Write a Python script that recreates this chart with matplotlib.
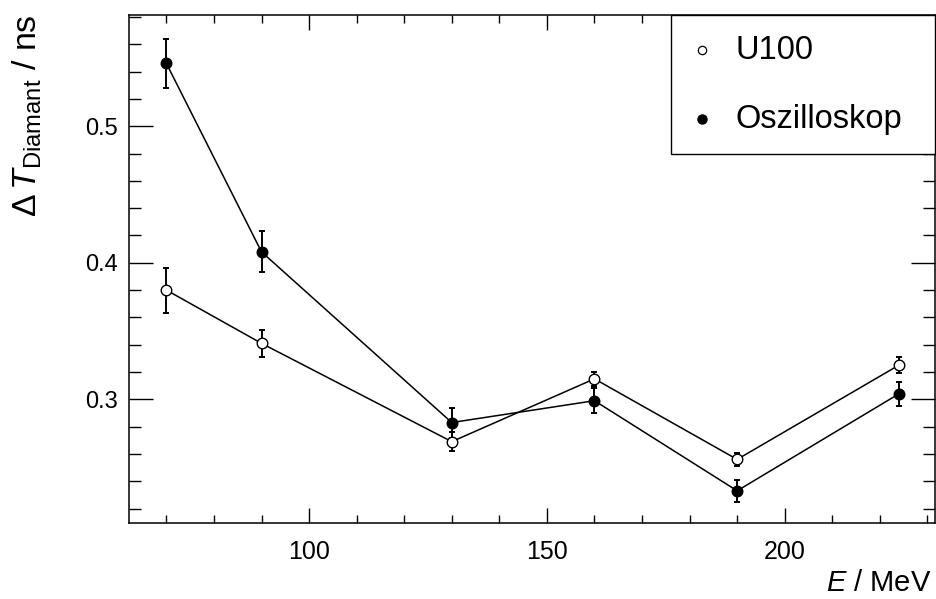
import matplotlib
matplotlib.use("Agg")
import matplotlib.pyplot as plt
from matplotlib.ticker import MultipleLocator
from matplotlib.patches import Rectangle

# Beam energy in MeV
energy = [70, 90, 130, 160, 190, 224]

# Diamond time resolution in ns
u100 = [0.380, 0.341, 0.269, 0.315, 0.256, 0.325]
u100_err = [0.0165, 0.010, 0.007, 0.005, 0.005, 0.006]

osz = [0.546, 0.408, 0.283, 0.299, 0.233, 0.304]
osz_err = [0.018, 0.015, 0.011, 0.009, 0.008, 0.009]

series_labels = ["U100", "Oszilloskop"]

plt.rcParams["font.family"] = ["Liberation Sans", "DejaVu Sans"]
plt.rcParams["mathtext.fontset"] = "custom"
plt.rcParams["mathtext.rm"] = "Liberation Sans"
plt.rcParams["mathtext.it"] = "Liberation Sans:italic"
plt.rcParams["mathtext.bf"] = "Liberation Sans:bold"

W, H = 936, 599
fig = plt.figure(figsize=(W / 100, H / 100), dpi=100)
x0, x1, y_top, y_bot = 129.3, 935.0, 15.0, 523.3
ax = fig.add_axes([x0 / W, (H - y_bot) / H, (x1 - x0) / W, (y_bot - y_top) / H])

ax.set_xlim(62.2, 231.6)
ax.set_ylim(0.2092, 0.5815)

lw_line = 1.1

# Oszilloskop: filled circles
ax.plot(energy, osz, color="black", lw=lw_line, zorder=2)
ax.errorbar(energy, osz, yerr=osz_err, fmt="none", ecolor="black",
            elinewidth=1.4, capsize=2.4, capthick=1.4, zorder=3)
ax.plot(energy, osz, "o", color="black", ms=7.6, zorder=4)

# U100: open circles
ax.plot(energy, u100, color="black", lw=lw_line, zorder=5)
ax.errorbar(energy, u100, yerr=u100_err, fmt="none", ecolor="black",
            elinewidth=1.4, capsize=2.4, capthick=1.4, zorder=6)
ax.plot(energy, u100, "o", mfc="white", mec="black", mew=1.0, ms=7.6, zorder=7)

# Frame and ticks on all four sides, pointing inwards
for s in ax.spines.values():
    s.set_linewidth(1.1)
ax.xaxis.set_major_locator(MultipleLocator(50))
ax.xaxis.set_minor_locator(MultipleLocator(10))
ax.yaxis.set_major_locator(MultipleLocator(0.1))
ax.yaxis.set_minor_locator(MultipleLocator(0.02))
ax.tick_params(axis="both", which="both", direction="in",
               top=True, right=True, width=1.0)
ax.tick_params(axis="x", which="major", length=10.5, pad=12, labelsize=18)
ax.tick_params(axis="x", which="minor", length=5.5)
ax.tick_params(axis="y", which="major", length=17.3, pad=8, labelsize=17)
ax.tick_params(axis="y", which="minor", length=8.6)
ax.yaxis.set_major_formatter(plt.FuncFormatter(lambda v, p: f"{v:.1f}"))

# Axis titles, aligned to the axis ends
fig.text(931 / W, 1 - 583 / H, r"$E$ / MeV", fontsize=21,
         ha="right", va="center")
fig.text(11 / W, 1 - 14 / H, r"$\Delta\,T_{\mathrm{Diamant}}$ / ns",
         fontsize=24.5, rotation=90, ha="left", va="top")

# Legend box
bx0, by0 = 0.672, 0.7265
ax.add_patch(Rectangle((bx0, by0), 1 - bx0, 1 - by0, transform=ax.transAxes,
                       facecolor="white", edgecolor="black", lw=1.0,
                       zorder=10, clip_on=False))
ax.plot([0.711], [0.931], "o", mfc="white", mec="black", mew=0.9, ms=6,
        transform=ax.transAxes, zorder=11, clip_on=False)
ax.plot([0.711], [0.795], "o", color="black", ms=6.5,
        transform=ax.transAxes, zorder=11, clip_on=False)
ax.text(0.753, 0.931, series_labels[0], transform=ax.transAxes, fontsize=23.5,
        va="center", ha="left", zorder=12)
ax.text(0.753, 0.795, series_labels[1], transform=ax.transAxes, fontsize=23.5,
        va="center", ha="left", zorder=12)

fig.savefig("out.png", dpi=100)
